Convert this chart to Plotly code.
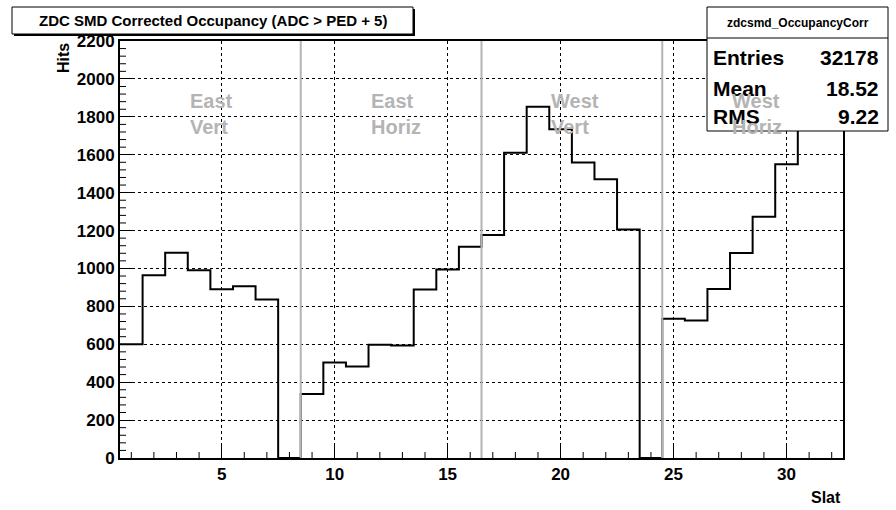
import plotly.graph_objects as go

# Occupancy histogram of the ZDC SMD slats (bin centres 1..32)
slat = list(range(1, 33))
hits = [600, 964, 1083, 991, 890, 906, 836, 0,
        337, 504, 483, 598, 593, 889, 995, 1115,
        1176, 1610, 1853, 1735, 1559, 1471, 1206, 0,
        734, 726, 892, 1081, 1273, 1550, 1790, 1740]

# Boundaries between the four SMD planes and their names
region_edges = [8.5, 16.5, 24.5]
region_names = ["East<br>Vert", "East<br>Horiz", "West<br>Vert", "West<br>Horiz"]

# Statistics box contents
hist_name = "zdcsmd_OccupancyCorr"
stat_labels = ["Entries", "Mean", "RMS"]
stat_values = ["32178", "18.52", "9.22"]

title_text = "ZDC SMD Corrected Occupancy (ADC > PED + 5)"
x_title = "Slat"
y_title = "Hits"

# ---------------------------------------------------------------------------
W, H = 896, 510
L, R, T, B = 120, 53, 41, 52
PW, PH = W - L - R, H - T - B
FONT = "Liberation Sans, Arial, Helvetica, sans-serif"
GREY = "#b4b4b4"
X_RANGE = [0.5, 32.5]
Y_RANGE = [0, 2200]
X_MAJOR, X_MINOR = 5, 1
Y_MAJOR, Y_MINOR = 200, 40
MINOR_LEN = 6  # px


def px(x):
    return (x - L) / PW


def py(y):
    return (H - B - y) / PH


# step outline: bin edges with the last content repeated to close the final bin
edges = [s - 0.5 for s in slat] + [slat[-1] + 0.5]
steps = hits + [hits[-1]]

fig = go.Figure()
fig.add_trace(go.Scatter(
    x=edges, y=steps, mode="lines", line=dict(color="black", width=2, shape="hv"),
    hoverinfo="skip", showlegend=False,
))

# short secondary tick marks on the inner side of the bottom and left axes
x_per_px = (X_RANGE[1] - X_RANGE[0]) / PW
y_per_px = (Y_RANGE[1] - Y_RANGE[0]) / PH
mx, my = [], []
t = 1
while t < X_RANGE[1]:
    if t % X_MAJOR:
        mx += [t, t, None]
        my += [Y_RANGE[0], Y_RANGE[0] + MINOR_LEN * y_per_px, None]
    t += X_MINOR
t = Y_RANGE[0] + Y_MINOR
while t < Y_RANGE[1]:
    if t % Y_MAJOR:
        mx += [X_RANGE[0], X_RANGE[0] + MINOR_LEN * x_per_px, None]
        my += [t, t, None]
    t += Y_MINOR
fig.add_trace(go.Scatter(
    x=mx, y=my, mode="lines", line=dict(color="black", width=1),
    hoverinfo="skip", showlegend=False, connectgaps=False,
))

shapes = []
for e in region_edges:
    shapes.append(dict(type="line", xref="x", yref="paper", x0=e, x1=e, y0=0, y1=1,
                       line=dict(color=GREY, width=2), layer="above"))

# title pave with shadow
shapes.append(dict(type="rect", xref="paper", yref="paper",
                   x0=px(14), x1=px(415), y0=py(36), y1=py(9),
                   fillcolor="black", line=dict(width=0), layer="above"))
shapes.append(dict(type="rect", xref="paper", yref="paper",
                   x0=px(12), x1=px(413), y0=py(34), y1=py(7),
                   fillcolor="white", line=dict(color="black", width=1), layer="above"))

# statistics box
shapes.append(dict(type="rect", xref="paper", yref="paper",
                   x0=px(707), x1=px(888), y0=py(131), y1=py(7),
                   fillcolor="white", line=dict(color="black", width=1), layer="above"))
shapes.append(dict(type="line", xref="paper", yref="paper",
                   x0=px(707), x1=px(888), y0=py(38), y1=py(38),
                   line=dict(color="black", width=1), layer="above"))

ann = []
ann.append(dict(text=title_text, xref="paper", yref="paper", x=px(212.5), y=py(20.5),
                xanchor="center", yanchor="middle", showarrow=False,
                font=dict(family=FONT, size=15, color="black", weight="bold")))
ann.append(dict(text=hist_name, xref="paper", yref="paper", x=px(797.5), y=py(22.5),
                xanchor="center", yanchor="middle", showarrow=False,
                font=dict(family=FONT, size=12, color="black", weight="bold")))
row_y = [58, 89, 117]
for lab, val, ry in zip(stat_labels, stat_values, row_y):
    ann.append(dict(text=lab, xref="paper", yref="paper", x=px(711), y=py(ry),
                    xanchor="left", yanchor="middle", showarrow=False,
                    font=dict(family=FONT, size=21, color="black", weight="bold")))
    ann.append(dict(text=val, xref="paper", yref="paper", x=px(881), y=py(ry),
                    xanchor="right", yanchor="middle", showarrow=False,
                    font=dict(family=FONT, size=21, color="black", weight="bold")))

# plane labels, each starting three slats into its plane
starts = [X_RANGE[0]] + region_edges
for name, s in zip(region_names, starts):
    ann.append(dict(text=name, xref="x", yref="paper", x=s + 3, y=py(114),
                    xanchor="left", yanchor="middle", align="left", showarrow=False,
                    font=dict(family=FONT, size=20, color=GREY, weight="bold")))

ann.append(dict(text=x_title, xref="paper", yref="paper", x=1, y=py(497),
                xanchor="right", yanchor="middle", showarrow=False,
                font=dict(family=FONT, size=16, color="black", weight="bold")))
ann.append(dict(text=y_title, xref="paper", yref="paper", x=px(63), y=1.0,
                xanchor="center", yanchor="top", textangle=-90, showarrow=False,
                font=dict(family=FONT, size=16, color="black", weight="bold")))

tickfont = dict(family=FONT, size=17, color="black", weight="bold")
fig.update_layout(
    width=W, height=H, margin=dict(l=L, r=R, t=T, b=B),
    paper_bgcolor="white", plot_bgcolor="white",
    shapes=shapes, annotations=ann, showlegend=False,
    xaxis=dict(range=X_RANGE, tick0=0, dtick=X_MAJOR, ticks="inside", ticklen=12,
               tickwidth=1, tickcolor="black", showline=True, linecolor="black",
               linewidth=2, mirror=True, showgrid=True, gridcolor="#000000",
               griddash="dot", gridwidth=1, zeroline=False, tickfont=tickfont),
    yaxis=dict(range=Y_RANGE, tick0=0, dtick=Y_MAJOR, ticks="inside", ticklen=12,
               tickwidth=1, tickcolor="black", showline=True, linecolor="black",
               linewidth=2, mirror=True, showgrid=True, gridcolor="#000000",
               griddash="dot", gridwidth=1, zeroline=False, tickfont=tickfont),
)

fig.write_html("out.html")
